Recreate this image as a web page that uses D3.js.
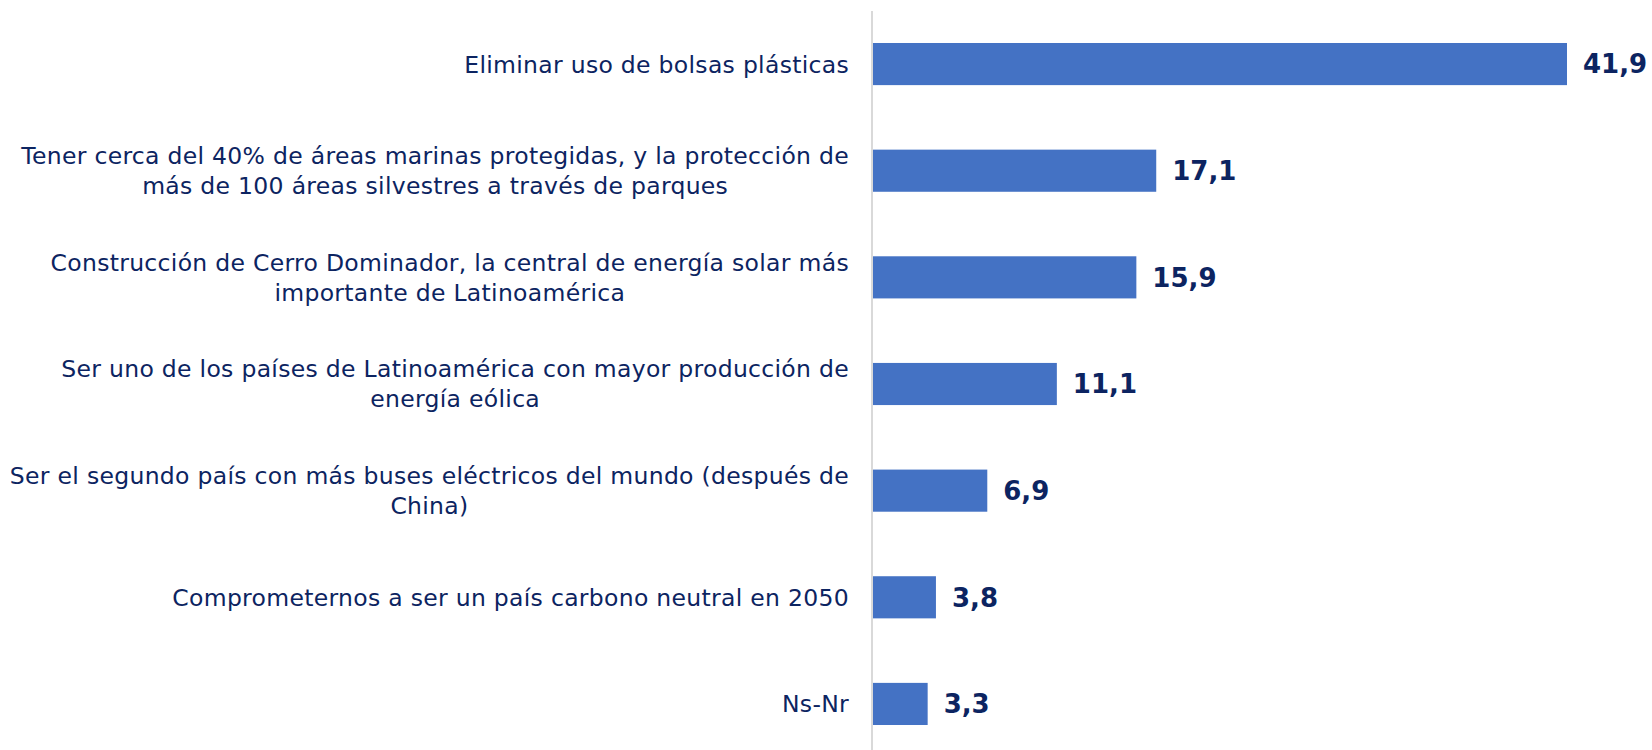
<!DOCTYPE html>
<html>
<head>
<meta charset="utf-8">
<script src="https://cdn.jsdelivr.net/npm/d3@7"></script>
<style>
body { margin: 0; background: #fff; }
</style>
</head>
<body>
<div id="chart"></div>
<script>
// data
var categories = [
  ["Eliminar uso de bolsas plásticas"],
  ["Tener cerca del 40% de áreas marinas protegidas, y la protección de", "más de 100 áreas silvestres a través de parques"],
  ["Construcción de Cerro Dominador, la central de energía solar más", "importante de Latinoamérica"],
  ["Ser uno de los países de Latinoamérica con mayor producción de", "energía eólica"],
  ["Ser el segundo país con más buses eléctricos del mundo (después de", "China)"],
  ["Comprometernos a ser un país carbono neutral en 2050"],
  ["Ns-Nr"]
];
var values = [41.9, 17.1, 15.9, 11.1, 6.9, 3.8, 3.3];
var valueLabels = ["41,9", "17,1", "15,9", "11,1", "6,9", "3,8", "3,3"];

var W = 1652, H = 750;
var axisX = 872;

var svg = d3.select("#chart").append("svg")
  .attr("width", W).attr("height", H);

var x = d3.scaleLinear()
  .domain([0, 41.9])
  .range([axisX + 1, 1567]);

var y = d3.scaleBand()
  .domain(d3.range(values.length))
  .range([11, 757])
  .paddingInner(0.605)
  .paddingOuter(0.3);

// axis line
svg.append("line")
  .attr("x1", axisX).attr("x2", axisX)
  .attr("y1", 11).attr("y2", H)
  .attr("stroke", "#d9d9d9")
  .attr("stroke-width", 2);

svg.append("g").selectAll("rect")
  .data(values)
  .enter().append("rect")
  .attr("x", x(0))
  .attr("y", function(d, i) { return y(i); })
  .attr("width", function(d) { return x(d) - x(0); })
  .attr("height", y.bandwidth())
  .attr("fill", "#4472c4");

// value labels
svg.append("g").selectAll("text")
  .data(values)
  .enter().append("text")
  .attr("x", function(d) { return x(d) + 16; })
  .attr("y", function(d, i) { return y(i) + y.bandwidth() / 2; })
  .attr("dy", "0.36em")
  .attr("font-family", "DejaVu Sans, Verdana, sans-serif")
  .attr("font-weight", "bold")
  .attr("font-size", 26)
  .attr("fill", "#0c2461")
  .text(function(d, i) { return valueLabels[i]; });

// category labels
var lineH = 30;
var cat = svg.append("g").selectAll("text")
  .data(categories)
  .enter().append("text")
  .attr("font-family", "DejaVu Sans, Verdana, sans-serif")
  .attr("font-size", 23.5)
  .attr("letter-spacing", 0.3)
  .attr("fill", "#0c2461");

cat.each(function(lines, i) {
  var cy = y(i) + y.bandwidth() / 2;
  var t = d3.select(this);
  var top = cy - (lines.length - 1) * lineH / 2;
  // single lines are right aligned, wrapped ones centred on the block
  var anchor = lines.length === 1 ? "end" : "middle";
  var maxW = 0;
  lines.forEach(function(l, j) {
    t.append("tspan")
      .attr("y", top + j * lineH)
      .attr("dy", "0.36em")
      .text(l);
  });
  t.selectAll("tspan").each(function() {
    maxW = Math.max(maxW, this.getComputedTextLength());
  });
  var right = axisX - 23;
  t.attr("text-anchor", anchor);
  t.selectAll("tspan").attr("x", anchor === "end" ? right : right - maxW / 2);
});
</script>
</body>
</html>
